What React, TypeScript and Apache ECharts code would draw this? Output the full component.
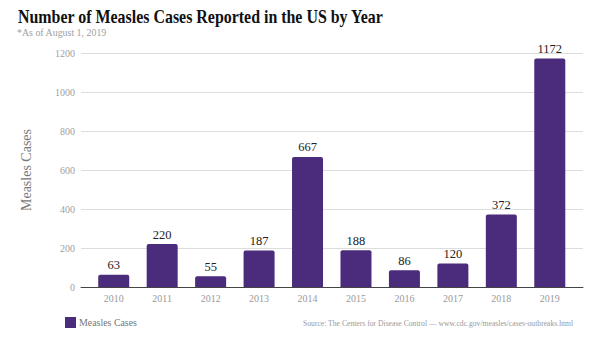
import React, { useEffect, useRef } from "react";
import * as echarts from "echarts";

const years = ["2010", "2011", "2012", "2013", "2014", "2015", "2016", "2017", "2018", "2019"];
const cases = [63, 220, 55, 187, 667, 188, 86, 120, 372, 1172];
const yTicks = [0, 200, 400, 600, 800, 1000, 1200];

const SERIF = "'Liberation Serif', 'DejaVu Serif', serif";
const BAR = "#4a2b7c";

export default function App() {
  const ref = useRef<HTMLDivElement>(null);
  useEffect(() => {
    const chart = echarts.init(ref.current!, null, { renderer: "svg" });
    const yMax = yTicks[yTicks.length - 1];
    const yInt = yTicks[1] - yTicks[0];
    chart.setOption({
      animation: false,
      backgroundColor: "#fff",
      legend: { show: false },
      graphic: [
        {
          type: "text",
          x: 18,
          y: 8,
          scaleX: 0.885,
          style: {
            text: "Number of Measles Cases Reported in the US by Year",
            fontFamily: SERIF,
            fontSize: 18,
            fontWeight: "bold",
            fill: "#111",
          },
        },
        {
          type: "text",
          x: 17,
          y: 27,
          scaleX: 0.9,
          style: { text: "*As of August 1, 2019", fontFamily: SERIF, fontSize: 11, fill: "#a0a0a0" },
        },
        {
          type: "rect",
          shape: { x: 65, y: 317, width: 11, height: 11 },
          style: { fill: BAR },
        },
        {
          type: "text",
          x: 79,
          y: 317,
          scaleX: 0.9,
          style: { text: "Measles Cases", fontFamily: SERIF, fontSize: 11, fill: "#777" },
        },
        {
          type: "text",
          x: 303,
          y: 319,
          scaleX: 0.9,
          style: {
            text: "Source: The Centers for Disease Control — www.cdc.gov/measles/cases-outbreaks.html",
            fontFamily: SERIF,
            fontSize: 8.5,
            fill: "#999",
          },
        },
      ],
      grid: [
        { left: 81, right: 17, top: 53, bottom: 60 },
        { left: 89.5, right: 26, top: 53, bottom: 60 },
      ],
      xAxis: [
        {
          type: "category",
          gridIndex: 0,
          data: years,
          axisLine: { show: true, lineStyle: { color: "#444", width: 1 } },
          axisTick: { show: false },
          axisLabel: { show: false },
        },
        {
          type: "category",
          gridIndex: 1,
          data: years,
          axisLine: { show: false },
          axisTick: { show: false },
          axisLabel: { fontFamily: SERIF, fontSize: 10, color: "#999", margin: 6 },
        },
      ],
      yAxis: [
        {
          type: "value",
          gridIndex: 0,
          min: 0,
          max: yMax,
          interval: yInt,
          name: "Measles Cases",
          nameLocation: "middle",
          nameGap: 48,
          nameTextStyle: { fontFamily: SERIF, fontSize: 14, color: "#777" },
          axisLine: { show: false },
          axisTick: { show: false },
          axisLabel: {
            fontFamily: SERIF,
            fontSize: 10,
            color: "#a0a0a0",
            margin: 6,
            formatter: (v: number) => String(v),
          },
          splitLine: { lineStyle: { color: "#ddd", width: 1 } },
        },
        {
          type: "value",
          gridIndex: 1,
          min: 0,
          max: yMax,
          interval: yInt,
          show: false,
          splitLine: { show: false },
        },
      ],
      series: [
        {
          name: "Measles Cases",
          type: "bar",
          xAxisIndex: 1,
          yAxisIndex: 1,
          data: cases,
          barWidth: 31,
          itemStyle: { color: BAR, borderRadius: [2, 2, 0, 0] },
          label: {
            show: true,
            position: "top",
            distance: 3,
            fontFamily: SERIF,
            fontSize: 12.5,
            color: "#222",
          },
        },
      ],
    });
    return () => chart.dispose();
  }, []);
  return <div ref={ref} style={{ width: 600, height: 347, position: "absolute", left: 0, top: 0 }} />;
}
